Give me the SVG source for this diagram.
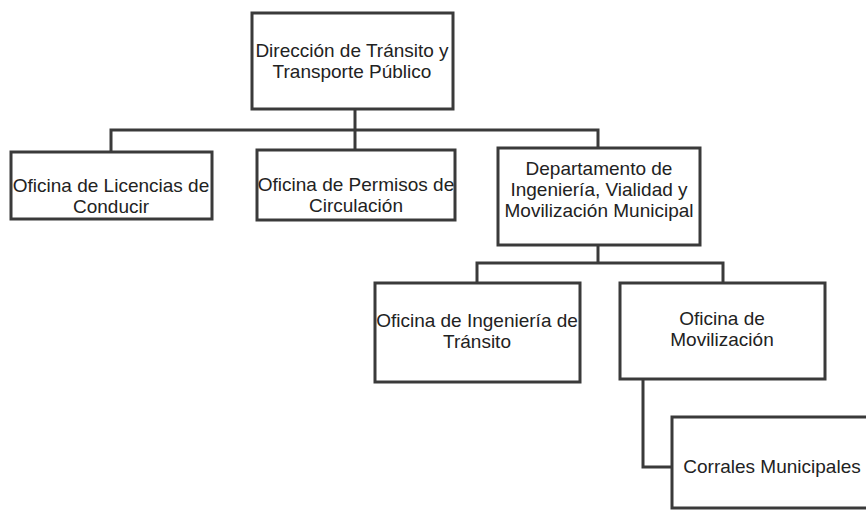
<svg xmlns="http://www.w3.org/2000/svg" width="866" height="511" viewBox="0 0 866 511">
<style>
.box{fill:#fff;stroke:#3a3a3a;stroke-width:3}
.con{fill:none;stroke:#3a3a3a;stroke-width:3}
text{font-family:"Liberation Sans",Arial,sans-serif;font-size:19px;fill:#222;text-anchor:middle}
</style>
<rect width="866" height="511" fill="#fff"/>
<g id="connectors">
<path class="con" d="M355,109 V130"/>
<path class="con" d="M111,152 V130 H598 V148"/>
<path class="con" d="M355,130 V150"/>
<path class="con" d="M598,245 V263"/>
<path class="con" d="M477,283 V263 H723 V283"/>
<path class="con" d="M643,379 V467 H672"/>
</g>
<g id="n1">
<rect class="box" x="252" y="13" width="201" height="96"/>
<text x="352" y="57">Dirección de Tránsito y</text>
<text x="352" y="78">Transporte Público</text>
</g>
<g id="n2">
<rect class="box" x="11" y="152" width="201" height="67"/>
<text x="111" y="192">Oficina de Licencias de</text>
<text x="111" y="213">Conducir</text>
</g>
<g id="n3">
<rect class="box" x="257" y="150" width="198" height="70"/>
<text x="356" y="191">Oficina de Permisos de</text>
<text x="356" y="212">Circulación</text>
</g>
<g id="n4">
<rect class="box" x="498" y="148" width="202" height="97"/>
<text x="599" y="175">Departamento de</text>
<text x="599" y="196">Ingeniería, Vialidad y</text>
<text x="599" y="217">Movilización Municipal</text>
</g>
<g id="n5">
<rect class="box" x="375" y="283" width="205" height="99"/>
<text x="477" y="327">Oficina de Ingeniería de</text>
<text x="477" y="348">Tránsito</text>
</g>
<g id="n6">
<rect class="box" x="620" y="283" width="205" height="96"/>
<text x="722" y="325">Oficina de</text>
<text x="722" y="346">Movilización</text>
</g>
<g id="n7">
<rect class="box" x="672" y="417" width="210" height="91"/>
<text x="772" y="473">Corrales Municipales</text>
</g>
</svg>
